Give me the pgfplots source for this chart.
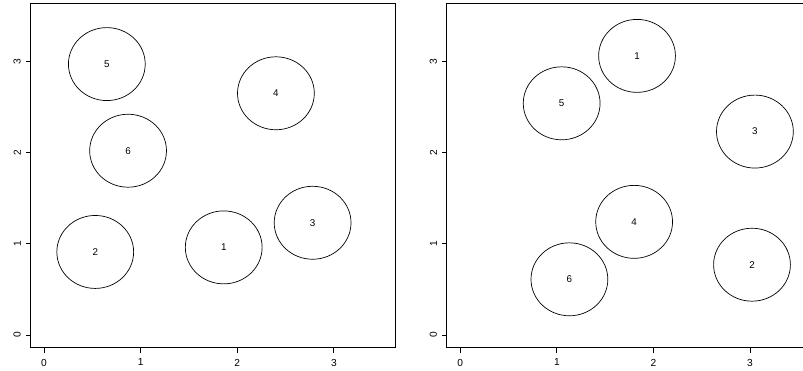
\documentclass[border=0pt]{standalone}
\usepackage{pgfplots}
\pgfplotsset{compat=1.18}
\usepackage{fontspec}
\setmainfont{Liberation Sans}

\pgfplotsset{rstyle/.style={
  scale only axis, width=365.2bp, height=344.7bp, anchor=south west,
  xmin=-0.14, xmax=3.64, ymin=-0.14, ymax=3.64,
  xtick={0,1,2,3}, ytick={0,1,2,3},
  axis line style={line width=0.8bp, black},
  tick align=outside, tick pos=left, major tick length=5bp,
  tick style={line width=0.8bp, black},
  /pgf/number format/assume math mode=true,
  ticklabel style={font=\fontsize{10.2bp}{12bp}\selectfont, inner sep=1bp},
  xticklabel style={anchor=north, yshift=-5bp},
  yticklabel style={rotate=90, anchor=south, yshift=3.5bp},
}}
\pgfplotsset{circ/.style={only marks, mark=o, mark size=38.4bp,
  mark options={yscale=0.95, line width=0.7bp, black},
  nodes near coords, point meta=explicit symbolic,
  every node near coord/.append style={anchor=center, font=\fontsize{9.8bp}{11bp}\selectfont, black}}}

\pgfplotstableread{
x y l
1.86 0.96 1
0.53 0.91 2
2.78 1.23 3
2.40 2.65 4
0.65 2.97 5
0.87 2.02 6
}\leftdata
\pgfplotstableread{
x y l
1.83 3.06 1
3.02 0.77 2
3.05 2.23 3
1.80 1.24 4
1.05 2.54 5
1.13 0.61 6
}\rightdata

\begin{document}
\begin{tikzpicture}
\path[use as bounding box] (0,0) rectangle (803bp,371bp);
\clip (0,0) rectangle (803bp,371bp);
\begin{axis}[rstyle, at={(30.5bp,23.3bp)}]
\addplot[circ] table[x=x, y=y, meta=l] {\leftdata};
\end{axis}
\begin{axis}[rstyle, at={(446.7bp,23.3bp)}]
\addplot[circ] table[x=x, y=y, meta=l] {\rightdata};
\end{axis}
\end{tikzpicture}
\end{document}
